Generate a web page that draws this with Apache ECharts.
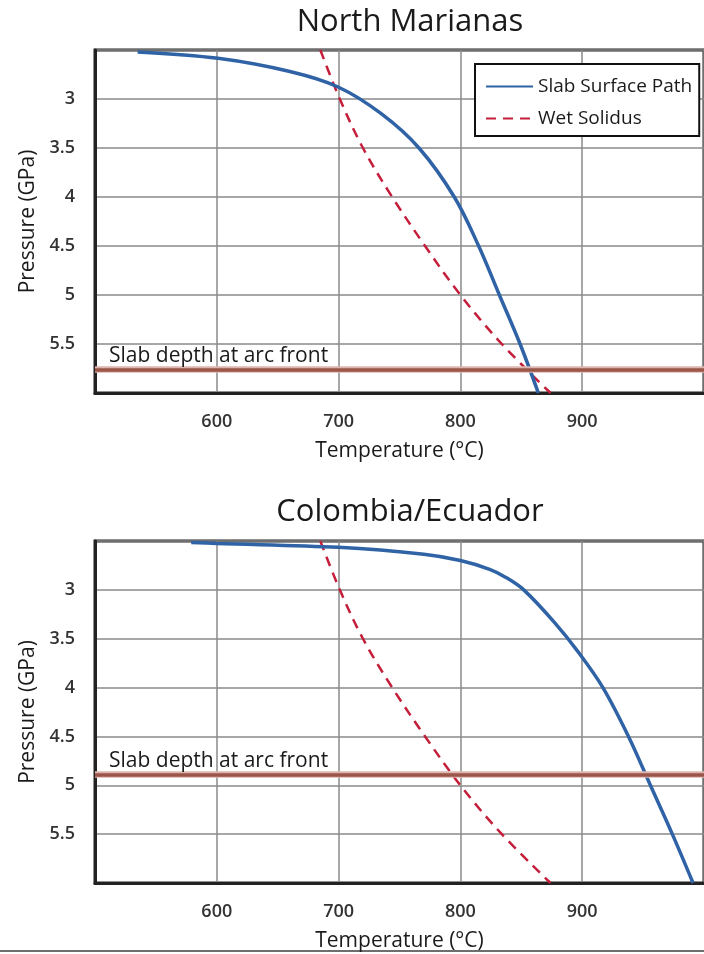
<!DOCTYPE html>
<html>
<head>
<meta charset="utf-8">
<script src="https://cdn.jsdelivr.net/npm/echarts@6/dist/echarts.min.js"></script>
<style>
  html, body { margin: 0; padding: 0; background: #ffffff; }
  #chart { width: 704px; height: 954px; }
</style>
</head>
<body>
<div id="chart"></div>
<script>
// Panel titles
const panelTitles = ['North Marianas', 'Colombia/Ecuador'];

// Slab surface P–T path, North Marianas
const marianasTemp = [535, 601, 660, 700, 735, 766, 795, 815, 832, 849, 864];
const marianasPres = [2.52, 2.585, 2.72, 2.88, 3.15, 3.5, 4.0, 4.5, 5.0, 5.5, 6.0];

// Slab surface P–T path, Colombia/Ecuador
const colombiaTemp = [579, 600, 700, 770, 800, 824, 837, 852, 877, 897, 917, 938, 956, 974, 991];
const colombiaPres = [2.515, 2.525, 2.565, 2.636, 2.70, 2.79, 2.87, 3.0, 3.33, 3.64, 4.0, 4.5, 5.0, 5.5, 6.0];

// Wet basalt solidus (same curve in both panels)
const solidusTemp = [685, 701, 720, 744, 771, 800, 834, 874];
const solidusPres = [2.5, 3.0, 3.5, 4.0, 4.5, 5.0, 5.5, 6.0];

// Slab depth beneath the arc front (GPa), per panel
const slabDepth = [5.76, 4.89];

// Axis ranges and tick steps
const tempRange = [500, 1000, 100];
const presRange = [2.5, 6.0, 0.5];

const seriesNames = ['Slab Surface Path', 'Wet Solidus'];
const slabLabel = 'Slab depth at arc front';

const FONT = '"Open Sans", "Noto Sans", sans-serif';
const BLUE = '#2f63a6';
const RED = '#c41e3a';

const pairs = (xs, ys) => xs.map((x, i) => [x, ys[i]]);

const grids = [
  { left: 95, top: 50, width: 620, height: 343 },
  { left: 95, top: 541, width: 620, height: 342 }
];

function xAxisFor(i) {
  return {
    type: 'value', gridIndex: i,
    min: tempRange[0], max: tempRange[1], interval: tempRange[2],
    name: 'Temperature (°C)', nameLocation: 'middle', nameGap: 48,
    nameTextStyle: { fontFamily: FONT, fontSize: 21, color: '#1a1a1a' },
    axisLine: { show: true, lineStyle: { color: '#222', width: 3 } },
    axisTick: { show: false },
    axisLabel: {
      fontFamily: FONT, fontSize: 18, fontWeight: 600, color: '#333', margin: 20,
      showMinLabel: false, showMaxLabel: false
    },
    splitLine: { show: true, lineStyle: { color: '#8a8a8a', width: 1.5 } }
  };
}

function yAxisFor(i) {
  return {
    type: 'value', gridIndex: i, inverse: true,
    min: presRange[0], max: presRange[1], interval: presRange[2],
    name: 'Pressure (GPa)', nameLocation: 'middle', nameGap: 56, nameRotate: 90,
    nameTextStyle: { fontFamily: FONT, fontSize: 21, color: '#1a1a1a' },
    axisLine: { show: true, onZero: false, lineStyle: { color: '#222', width: 3 } },
    axisTick: { show: false },
    axisLabel: {
      fontFamily: FONT, fontSize: 18, fontWeight: 600, color: '#333', margin: 20,
      showMinLabel: false, showMaxLabel: false
    },
    splitLine: { show: true, lineStyle: { color: '#8a8a8a', width: 1.5 } }
  };
}

function slabMarkLine(i) {
  return {
    silent: true, symbol: 'none', animation: false,
    data: [
      { yAxis: slabDepth[i], lineStyle: { color: '#ddb5af', width: 6.5, type: 'solid' }, label: { show: false } },
      {
        yAxis: slabDepth[i], lineStyle: { color: '#9a5648', width: 3.5, type: 'solid' },
        label: {
          show: true, formatter: slabLabel, position: 'insideStartTop',
          distance: [14, 3],
          fontFamily: FONT, fontSize: 21, color: '#1a1a1a'
        }
      }
    ]
  };
}

function pathSeries(i, data) {
  return {
    name: seriesNames[0], type: 'line', xAxisIndex: i, yAxisIndex: i,
    data, symbol: 'none', smooth: 0.35, clip: true,
    lineStyle: { color: BLUE, width: 3.5 }, itemStyle: { color: BLUE },
    markLine: slabMarkLine(i), z: 3
  };
}

function solidusSeries(i) {
  return {
    name: seriesNames[1], type: 'line', xAxisIndex: i, yAxisIndex: i,
    data: pairs(solidusTemp, solidusPres), symbol: 'none', smooth: 0.35, clip: true,
    lineStyle: { color: RED, width: 2.5, type: [10, 7] }, itemStyle: { color: RED }, z: 2
  };
}

const chart = echarts.init(document.getElementById('chart'), null, { renderer: 'canvas' });

chart.setOption({
  animation: false,
  backgroundColor: '#ffffff',
  title: [
    { text: panelTitles[0], left: 405, top: 2, textAlign: 'center',
      textStyle: { fontFamily: FONT, fontSize: 31, fontWeight: 'normal', color: '#1a1a1a' } },
    { text: panelTitles[1], left: 405, top: 492, textAlign: 'center',
      textStyle: { fontFamily: FONT, fontSize: 31, fontWeight: 'normal', color: '#1a1a1a' } }
  ],
  legend: {
    data: seriesNames, orient: 'vertical', left: 475, top: 64,
    itemWidth: 47, itemHeight: 14, itemGap: 13,
    padding: [13, 7, 8, 10],
    itemStyle: { opacity: 0 },
    borderColor: '#111', borderWidth: 2, backgroundColor: '#fff',
    textStyle: { fontFamily: FONT, fontSize: 19, color: '#1a1a1a' }
  },
  grid: grids.map(g => Object.assign({ show: true, borderColor: '#222', borderWidth: 3, backgroundColor: 'transparent' }, g)),
  xAxis: [xAxisFor(0), xAxisFor(1)],
  yAxis: [yAxisFor(0), yAxisFor(1)],
  series: [
    pathSeries(0, pairs(marianasTemp, marianasPres)),
    solidusSeries(0),
    pathSeries(1, pairs(colombiaTemp, colombiaPres)),
    solidusSeries(1)
  ],
  graphic: [
    { type: 'rect', left: 0, top: 950, shape: { width: 704, height: 2 }, style: { fill: '#6e6e6e' }, silent: true }
  ]
});
</script>
</body>
</html>
